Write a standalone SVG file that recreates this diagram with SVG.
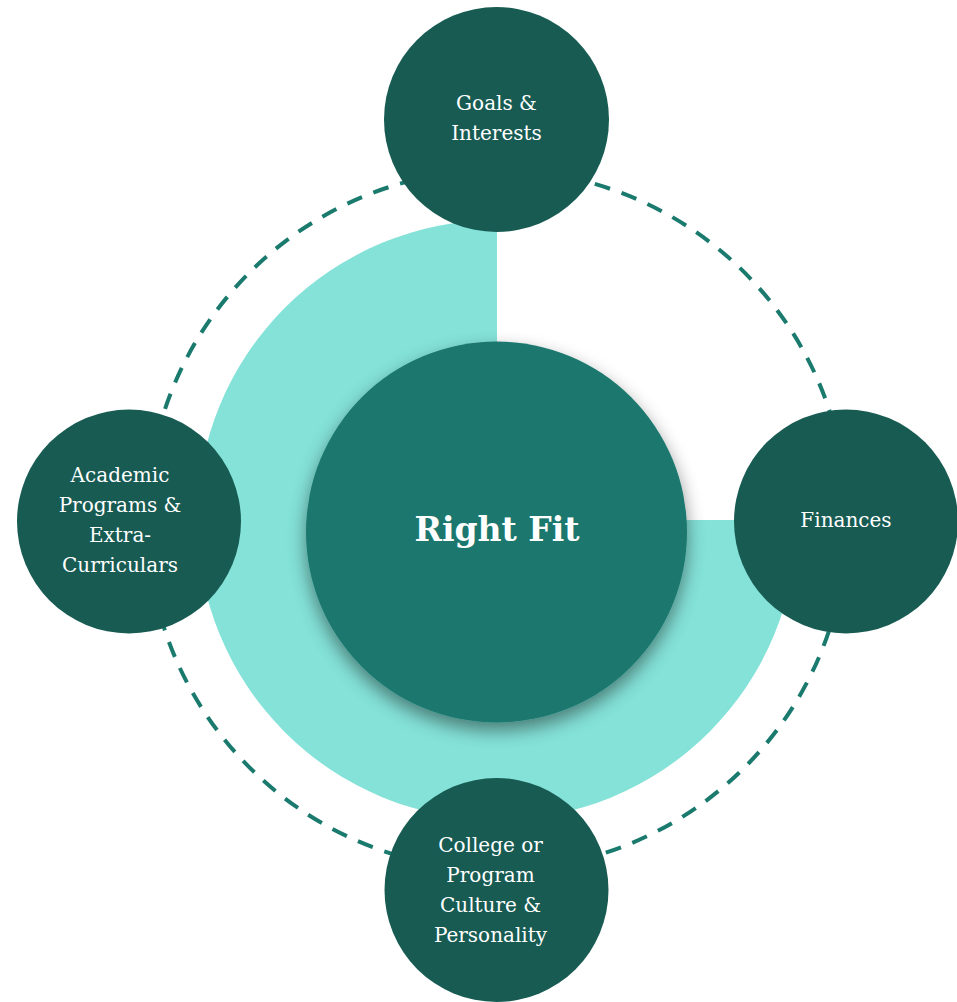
<svg xmlns="http://www.w3.org/2000/svg" width="957" height="1002" viewBox="0 0 957 1002">
  <defs>
    <filter id="shadow" x="-30%" y="-30%" width="160%" height="160%">
      <feDropShadow dx="0" dy="8" stdDeviation="9" flood-color="#000" flood-opacity="0.45"/>
    </filter>
    <style>
      .node { fill: #175B53; }
      .label { font-family: "DejaVu Serif", "Liberation Serif", serif; font-size: 20px; fill: #FFFFFF; text-anchor: middle; }
      .title { font-family: "DejaVu Serif", "Liberation Serif", serif; font-size: 33px; font-weight: bold; fill: #FFFFFF; text-anchor: middle; }
      .ring { fill: none; stroke: #1B7A6E; stroke-width: 4; stroke-dasharray: 16 12.19; }
    </style>
  </defs>
  <rect width="957" height="1002" fill="#FFFFFF"/>

  <g id="connectors">
    <circle class="ring" cx="497" cy="520" r="350"/>
  </g>

  <g id="sector">
    <path d="M497,520 L797,520 A300,300 0 1 1 497,220 Z" fill="#84E2D8"/>
  </g>

  <g id="right-fit">
    <circle cx="496.5" cy="532" r="190.5" fill="#1C786E" filter="url(#shadow)"/>
    <text class="title" x="497" y="541">Right Fit</text>
  </g>

  <g id="goals">
    <circle class="node" cx="496.5" cy="119.5" r="112.5"/>
    <text class="label" x="496.5" y="110">Goals &amp;</text>
    <text class="label" x="496.5" y="140">Interests</text>
  </g>

  <g id="finances">
    <circle class="node" cx="846" cy="521.5" r="112"/>
    <text class="label" x="846" y="527">Finances</text>
  </g>

  <g id="academic">
    <circle class="node" cx="129" cy="521.5" r="112"/>
    <text class="label" x="120" y="482">Academic</text>
    <text class="label" x="120" y="512">Programs &amp;</text>
    <text class="label" x="120" y="542">Extra-</text>
    <text class="label" x="120" y="572">Curriculars</text>
  </g>

  <g id="culture">
    <circle class="node" cx="496.5" cy="890" r="112"/>
    <text class="label" x="490.5" y="852">College or</text>
    <text class="label" x="490.5" y="882">Program</text>
    <text class="label" x="490.5" y="912">Culture &amp;</text>
    <text class="label" x="490.5" y="942">Personality</text>
  </g>
</svg>
